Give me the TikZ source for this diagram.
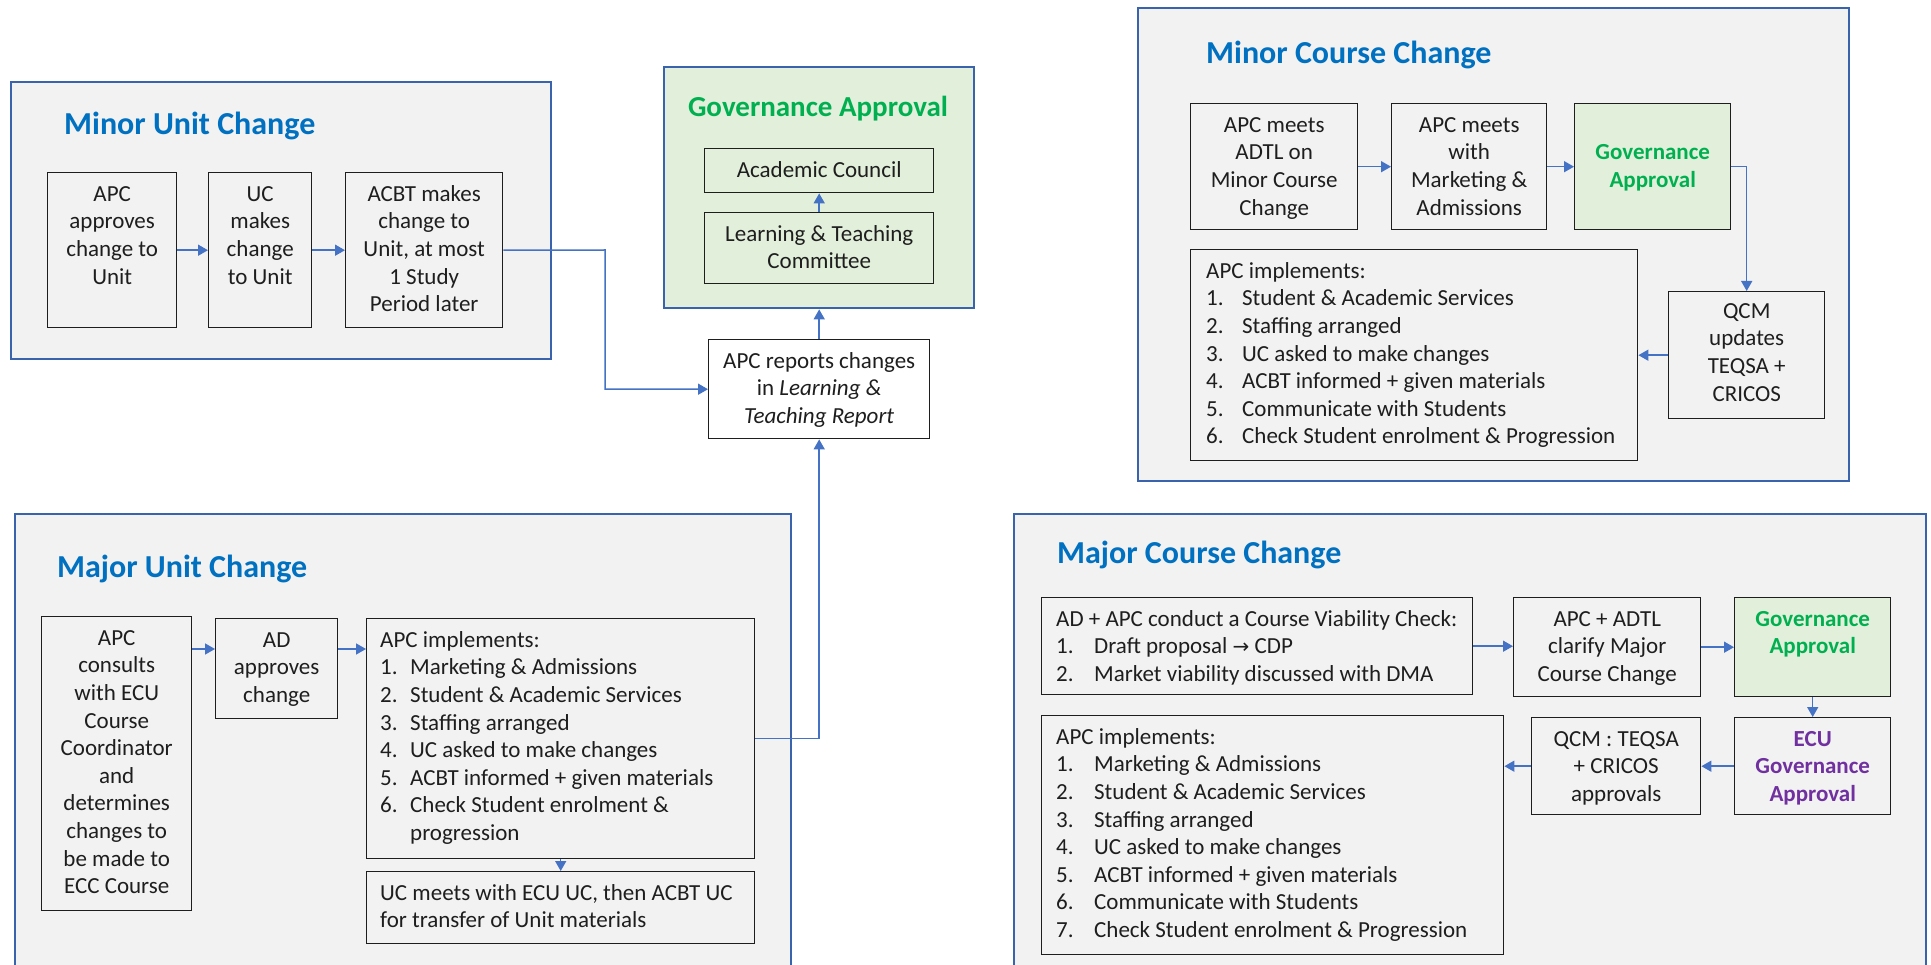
\documentclass[tikz,border=0pt]{standalone}
\usepackage{fontspec}
\setmainfont{Carlito}
\newfontfamily\symfont{DejaVu Sans}
\usetikzlibrary{arrows.meta}
\definecolor{outerblue}{HTML}{3A63AD}
\definecolor{connblue}{HTML}{4472C4}
\definecolor{titleblue}{HTML}{0070C0}
\definecolor{govgreen}{HTML}{00B050}
\definecolor{govfill}{HTML}{E2EFDA}
\definecolor{panelgrey}{HTML}{F2F2F2}
\definecolor{ecupurple}{HTML}{7030A0}
\definecolor{inkgrey}{HTML}{1E1E1E}
\newcommand\bodyfont{\fontsize{23}{27.6}\selectfont}
\newcommand\itm[2][36pt]{\makebox[#1][l]{#2}}
\begin{document}
\begin{tikzpicture}[x=1pt,y=-1pt,
  panel/.style={draw=outerblue, line width=2.4pt, fill=panelgrey, inner sep=0pt, anchor=north west},
  govpanel/.style={panel, fill=govfill},
  stepbox/.style={draw=inkgrey, line width=1.4pt, fill=panelgrey, inner sep=0pt, anchor=north west},
  greenbox/.style={stepbox, fill=govfill},
  whitebox/.style={stepbox, fill=white},
  txtc/.style={anchor=north, align=center, inner xsep=0pt, inner ysep=9.7pt, font=\bodyfont, text=inkgrey},
  txtl/.style={anchor=north west, align=left, inner xsep=15pt, inner ysep=9.7pt, font=\bodyfont, text=inkgrey},
  title/.style={anchor=base west, inner sep=0pt, font=\fontsize{32}{38}\selectfont\bfseries, text=titleblue},
  conn/.style={draw=connblue, line width=1.5pt, -{Triangle[length=10pt,width=11pt]}},
  line/.style={draw=connblue, line width=1.5pt}]
\useasboundingbox (0,0) rectangle (1931,965);
\clip (0,0) rectangle (1931,965);
\fill[white] (0,0) rectangle (1931,965);

% ---------- Minor Unit Change ----------
\node[panel, minimum width=540pt, minimum height=277pt] (pmu) at (10,81) {};
\node[title] (tmu) at (64,135) {Minor Unit Change};
\node[stepbox, minimum width=129pt, minimum height=155pt] (mu1) at (47,172) {};
\node[stepbox, minimum width=103pt, minimum height=155pt] (mu2) at (208,172) {};
\node[stepbox, minimum width=157pt, minimum height=155pt] (mu3) at (345,172) {};
\node[txtc] (mu1t) at (mu1.north) {\strut APC\\approves\\change to\\Unit};
\node[txtc] (mu2t) at (mu2.north) {\strut UC\\makes\\change\\to Unit};
\node[txtc] (mu3t) at (mu3.north) {\strut ACBT makes\\change to\\Unit, at most\\1 Study\\Period later};

% ---------- Governance Approval ----------
\node[govpanel, minimum width=310pt, minimum height=241pt] (gov) at (663,66) {};
\node[anchor=base, inner sep=0pt, font=\fontsize{29}{34}\selectfont\bfseries, text=govgreen] (tgov) at (818,117) {Governance Approval};
\node[greenbox, minimum width=229pt, minimum height=44pt] (ac) at (704,148) {};
\node[greenbox, minimum width=229pt, minimum height=71pt] (ltc) at (704,212) {};
\node[txtc] (act) at (ac.north) {\strut Academic Council};
\node[txtc] (ltct) at (ltc.north) {\strut Learning \& Teaching\\Committee};
\node[whitebox, minimum width=221pt, minimum height=99pt] (rep) at (708,339) {};
\node[txtc] (rept) at (rep.north) {\strut APC reports changes\\in \textit{Learning \&}\\\textit{Teaching Report}};

% ---------- Minor Course Change ----------
\node[panel, minimum width=711pt, minimum height=473pt] (pmc) at (1137,7) {};
\node[title] (tmc) at (1206,64) {Minor Course Change};
\node[stepbox, minimum width=167pt, minimum height=126pt] (mc1) at (1190,103) {};
\node[stepbox, minimum width=155pt, minimum height=126pt] (mc2) at (1391,103) {};
\node[greenbox, minimum width=156pt, minimum height=126pt] (mcg) at (1574,103) {};
\node[stepbox, minimum width=156pt, minimum height=127pt] (mcq) at (1668,291) {};
\node[stepbox, minimum width=447pt, minimum height=211pt] (mci) at (1190,249) {};
\node[txtc] (mc1t) at (mc1.north) {\strut APC meets\\ADTL on\\Minor Course\\Change};
\node[txtc] (mc2t) at (mc2.north) {\strut APC meets\\with\\Marketing \&\\Admissions};
\node[txtc, yshift=-27.6pt, font=\bodyfont\bfseries, text=govgreen] (mcgt) at (mcg.north) {\strut Governance\\Approval};
\node[txtc, yshift=2pt] (mcqt) at (mcq.north) {\strut QCM\\updates\\TEQSA +\\CRICOS};
\node[txtl, inner xsep=16pt] (mcit) at (mci.north west) {\strut APC implements:\\
\itm{1.}Student \& Academic Services\\
\itm{2.}Staffing arranged\\
\itm{3.}UC asked to make changes\\
\itm{4.}ACBT informed + given materials\\
\itm{5.}Communicate with Students\\
\itm{6.}Check Student enrolment \& Progression};

% ---------- Major Unit Change ----------
\node[panel, minimum width=776pt, minimum height=470pt] (pmj) at (14,513) {};
\node[title] (tmj) at (57,577) {Major Unit Change};
\node[stepbox, minimum width=150pt, minimum height=294pt] (mj1) at (41,616) {};
\node[stepbox, minimum width=122pt, minimum height=100pt] (mj2) at (215,618) {};
\node[stepbox, minimum width=388pt, minimum height=240pt] (mj3) at (366,618) {};
\node[stepbox, minimum width=388pt, minimum height=72pt] (mj4) at (366,871) {};
\node[txtc] (mj1t) at (mj1.north) {\strut APC\\consults\\with ECU\\Course\\Coordinator\\and\\determines\\changes to\\be made to\\ECC Course};
\node[txtc] (mj2t) at (mj2.north) {\strut AD\\approves\\change};
\node[txtl, inner xsep=14pt] (mj3t) at (mj3.north west) {\strut APC implements:\\
\itm[30pt]{1.}Marketing \& Admissions\\
\itm[30pt]{2.}Student \& Academic Services\\
\itm[30pt]{3.}Staffing arranged\\
\itm[30pt]{4.}UC asked to make changes\\
\itm[30pt]{5.}ACBT informed + given materials\\
\itm[30pt]{6.}Check Student enrolment \&\\
\hspace*{30pt}progression};
\node[txtl, inner xsep=14pt] (mj4t) at (mj4.north west) {\strut UC meets with ECU UC, then ACBT UC\\for transfer of Unit materials};

% ---------- Major Course Change ----------
\node[panel, minimum width=912pt, minimum height=470pt] (pma) at (1013,513) {};
\node[title] (tma) at (1057,563) {Major Course Change};
\node[stepbox, minimum width=431pt, minimum height=97pt] (ma) at (1041,597) {};
\node[stepbox, minimum width=187pt, minimum height=99pt] (mb) at (1513,597) {};
\node[greenbox, minimum width=156pt, minimum height=99pt] (mg) at (1734,597) {};
\node[stepbox, minimum width=156pt, minimum height=97pt] (me) at (1734,717) {};
\node[stepbox, minimum width=169pt, minimum height=97pt] (mq) at (1531,717) {};
\node[stepbox, minimum width=462pt, minimum height=239pt] (mi) at (1041,715) {};
\node[txtl] (mat) at (ma.north west) {\strut AD + APC conduct a Course Viability Check:\\
\itm[38pt]{1.}Draft proposal {\symfont\fontsize{20}{24}\selectfont →} CDP\\
\itm[38pt]{2.}Market viability discussed with DMA};
\node[txtc] (mbt) at (mb.north) {\strut APC + ADTL\\clarify Major\\Course Change};
\node[txtc, font=\bodyfont\bfseries, text=govgreen] (mgt) at (mg.north) {\strut Governance\\Approval};
\node[txtc, font=\bodyfont\bfseries, text=ecupurple] (met) at (me.north) {\strut ECU\\Governance\\Approval};
\node[txtc] (mqt) at (mq.north) {\strut QCM : TEQSA\\+ CRICOS\\approvals};
\node[txtl] (mit) at (mi.north west) {\strut APC implements:\\
\itm[38pt]{1.}Marketing \& Admissions\\
\itm[38pt]{2.}Student \& Academic Services\\
\itm[38pt]{3.}Staffing arranged\\
\itm[38pt]{4.}UC asked to make changes\\
\itm[38pt]{5.}ACBT informed + given materials\\
\itm[38pt]{6.}Communicate with Students\\
\itm[38pt]{7.}Check Student enrolment \& Progression};

% ---------- Connectors ----------
\draw[conn] (mu1.east) -- (mu2.west);
\draw[conn] (mu2.east) -- (mu3.west);
\coordinate (jmu) at (605,250);
\draw[conn] (mu3.east) -- (jmu) |- (rep.west);
\draw[conn] (ltc.north) -- (ac.south);
\draw[conn] (rep.north) -- (gov.south);
\draw[conn] (mj3.east) -| (rep.south);
\draw[conn] ([yshift=-33pt]mj1.north east) -- ([yshift=-31pt]mj2.north west);
\draw[conn] ([yshift=-31pt]mj2.north east) -- ([yshift=-31pt]mj3.north west);
\draw[conn] (mj3.south) -- (mj4.north);
\draw[conn] (mc1.east) -- (mc2.west);
\draw[conn] (mc2.east) -- (mcg.west);
\draw[conn] (mcg.east) -| (mcq.north);
\draw[conn] (mcq.west) -- (mcq.west -| mci.east);
\draw[conn] (ma.east) -- (ma.east -| mb.west);
\draw[conn] (mb.east) -- (mb.east -| mg.west);
\draw[conn] (mg.south) -- (me.north);
\draw[conn] (me.west) -- (mq.east);
\draw[conn] (mq.west) -- (mq.west -| mi.east);
\end{tikzpicture}
\end{document}
